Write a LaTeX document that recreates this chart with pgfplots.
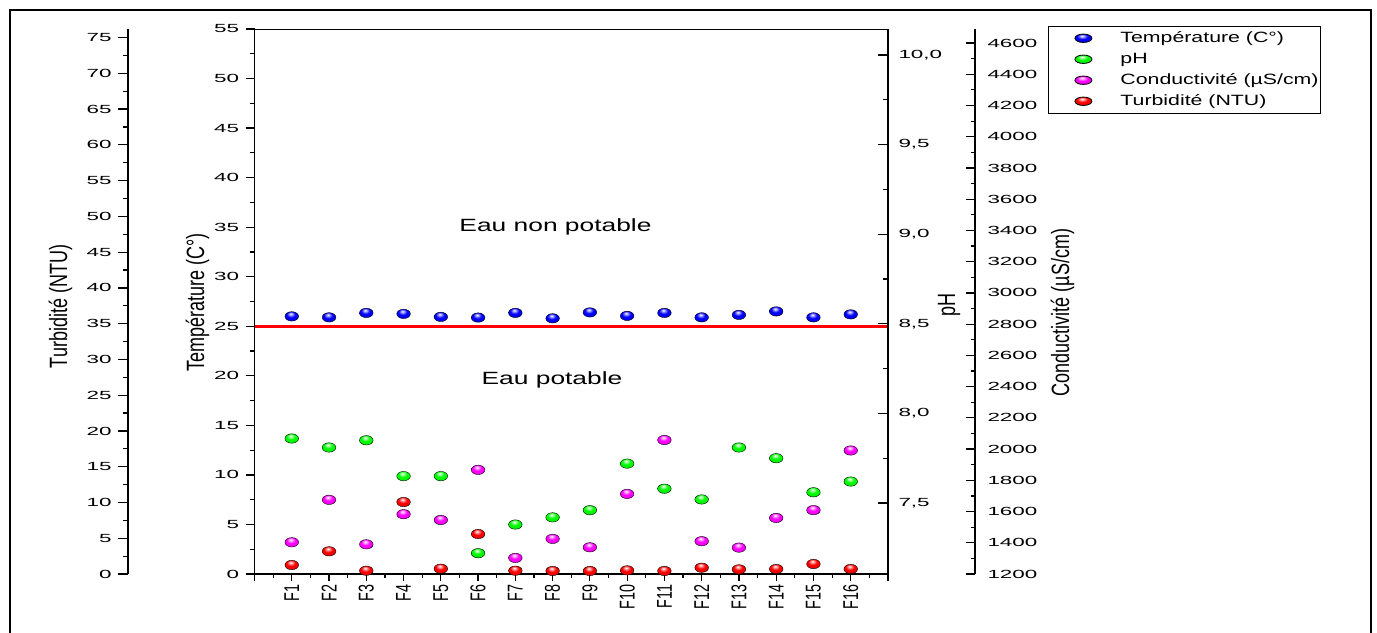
\documentclass[border=0pt]{standalone}
\usepackage{fontspec}
\setmainfont{Liberation Sans}
\newfontfamily\tickyfont[FakeStretch=1.9]{Liberation Sans}
\newfontfamily\tickxfont[FakeStretch=0.67]{Liberation Sans}
\newfontfamily\labelfont[FakeStretch=0.72]{Liberation Sans}
\newfontfamily\annotfont[FakeStretch=1.49]{Liberation Sans}
\newfontfamily\legendfont[FakeStretch=1.43]{Liberation Sans}
\usepackage{pgfplots}
\usepackage{pgfplotstable}
\pgfplotsset{compat=1.18}

\makeatletter
\pgfdeclareradialshading[tikz@ball]{ball}{\pgfqpoint{-4bp}{14bp}}{%
  color(0bp)=(white);
  color(7bp)=(tikz@ball!45!white);
  color(16bp)=(tikz@ball);
  color(42bp)=(tikz@ball!88!black);
  color(68bp)=(tikz@ball!55!black)}
\makeatother

\pgfplotstableread{
x temp ph cond turb
1 26.0 7.86 1403 1.26
2 25.9 7.81 1675 3.17
3 26.35 7.85 1390 0.46
4 26.25 7.65 1583 10.06
5 25.95 7.65 1546 0.74
6 25.88 7.22 1867 5.59
7 26.35 7.38 1303 0.46
8 25.8 7.42 1425 0.42
9 26.4 7.46 1371 0.42
10 26.05 7.72 1713 0.51
11 26.35 7.58 2058 0.42
12 25.9 7.52 1410 0.88
13 26.15 7.81 1369 0.65
14 26.5 7.75 1559 0.70
15 25.9 7.56 1609 1.40
16 26.2 7.62 1991 0.70
}\datatable

\pgfplotsset{
  /pgf/number format/assume math mode=true,
  /pgf/number format/1000 sep={},
  every axis/.append style={
    scale only axis, height=545bp, clip=false,
    tick style={black, line width=1.2bp},
    axis line style={black, line width=1.6bp},
    yticklabel style={font=\tickyfont\fontsize{11.8bp}{13bp}\selectfont},
  },
  base/.style={width=633.5bp, at={(254.5bp,59bp)}, anchor=south west, xmin=0, xmax=17},
  tempm/.style={only marks, mark=ball, mark size=4.7bp, mark options={ball color=blue, xscale=1.45}},
  phm/.style={only marks, mark=ball, mark size=4.7bp, mark options={ball color=green, xscale=1.45}},
  condm/.style={only marks, mark=ball, mark size=4.7bp, mark options={ball color=magenta, xscale=1.45}},
  turbm/.style={only marks, mark=ball, mark size=4.7bp, mark options={ball color=red, xscale=1.45}},
}

\begin{document}
\begin{tikzpicture}
\useasboundingbox (0,0) rectangle (1377bp,633bp);

% Turbidity display axis
\begin{axis}[width=5bp, at={(128bp,59bp)}, anchor=south west,
  xmin=0, xmax=1, ymin=0, ymax=76.2, hide x axis, axis y line*=left,
  tick align=outside, major tick length=10bp, minor tick length=5bp,
  ytick={0,5,...,75}, minor y tick num=1,
  yticklabel style={xshift=-3bp}]
\end{axis}

% Temperature axis
\begin{axis}[base, ymin=0, ymax=55, hide x axis, axis y line*=left,
  tick align=outside, major tick length=9bp, minor tick length=5bp,
  ytick={0,5,...,55}, minor y tick num=1,
  yticklabel style={xshift=-3bp}]
\addplot[red, line width=3bp] coordinates {(0,25) (17,25)};
\addplot[tempm] table[x=x, y=temp] {\datatable};
\end{axis}

% pH axis
\begin{axis}[base, ymin=7.104, ymax=10.145, hide x axis, axis y line*=right,
  tick align=inside, major tick length=10bp, minor tick length=5bp,
  ytick={7.5,8,...,10}, minor y tick num=1,
  yticklabel style={xshift=7bp, /pgf/number format/.cd, fixed, fixed zerofill, precision=1, use comma}]
\addplot[phm] table[x=x, y=ph] {\datatable};
\end{axis}

% Conductivity data + top line
\begin{axis}[base, ymin=1200, ymax=4690, hide y axis, axis x line*=top,
  xtick=\empty, axis line style={line width=0.8bp}]
\addplot[condm] table[x=x, y=cond] {\datatable};
\end{axis}

% Conductivity display axis
\begin{axis}[width=5bp, at={(975bp,59bp)}, anchor=south east,
  xmin=0, xmax=1, ymin=1200, ymax=4690, hide x axis, axis y line*=right,
  tick align=inside, major tick length=9bp, minor tick length=4.5bp,
  ytick={1200,1400,...,4600}, minor y tick num=1,
  yticklabel style={xshift=9bp}]
\end{axis}

% Turbidity data + x axis + legend
\begin{axis}[base, ymin=0, ymax=76.2, hide y axis, axis x line*=bottom,
  tick align=outside, major tick length=7bp, minor tick length=4bp,
  xtick={0,...,17}, minor x tick num=1,
  xticklabels={{},F1,F2,F3,F4,F5,F6,F7,F8,F9,F10,F11,F12,F13,F14,F15,F16,{}},
  xticklabel style={font=\tickxfont\fontsize{21.4bp}{22bp}\selectfont, rotate=90, anchor=east},
  legend cell align=left,
  legend image code/.code={\path[draw=none, fill=none] (-10bp,-4bp) rectangle (46bp,4bp);
    \path[mark repeat=2, mark phase=2, #1, draw=none, mark size=4.2bp, every mark/.append style={xscale=1.4}] plot coordinates {(0bp,0bp) (23bp,0bp) (46bp,0bp)};},
  legend style={at={(1.2526,1.0055)}, anchor=north west, draw=black, line width=0.8bp,
    font=\legendfont\fontsize{14.9bp}{16bp}\selectfont,
    inner xsep=2bp, inner ysep=5bp, row sep=7.3bp, column sep=14bp,
    nodes={inner sep=0pt, text height=10.7bp, text depth=3bp}}]
\addlegendimage{tempm}
\addlegendentry{Température (C°)}
\addlegendimage{phm}
\addlegendentry{pH}
\addlegendimage{condm}
\addlegendentry{Conductivité (µS/cm)}
\addplot[turbm] table[x=x, y=turb] {\datatable};
\addlegendentry{Turbidité (NTU)}
\end{axis}

% axis labels
\node[rotate=90, anchor=base, font=\labelfont\fontsize{25bp}{27bp}\selectfont] at (67bp,326.5bp) {Turbidité (NTU)};
\node[rotate=90, anchor=base, font=\labelfont\fontsize{25bp}{27bp}\selectfont] at (204bp,330.5bp) {Température (C°)};
\node[rotate=90, anchor=base, font=\labelfont\fontsize{25bp}{27bp}\selectfont] at (955bp,328bp) {pH};
\node[rotate=90, anchor=base, font=\labelfont\fontsize{25bp}{27bp}\selectfont] at (1069bp,320.5bp) {Conductivité (µS/cm)};

% annotations
\node[anchor=base, font=\annotfont\fontsize{17.7bp}{20bp}\selectfont] at (555.5bp,401.3bp) {Eau non potable};
\node[anchor=base, font=\annotfont\fontsize{17.7bp}{20bp}\selectfont] at (552bp,248bp) {Eau potable};

% outer frame
\draw[line width=2.5bp] (10bp,-20bp) -- (10bp,623bp) -- (1371bp,623bp) -- (1371bp,-20bp);
\end{tikzpicture}
\end{document}
